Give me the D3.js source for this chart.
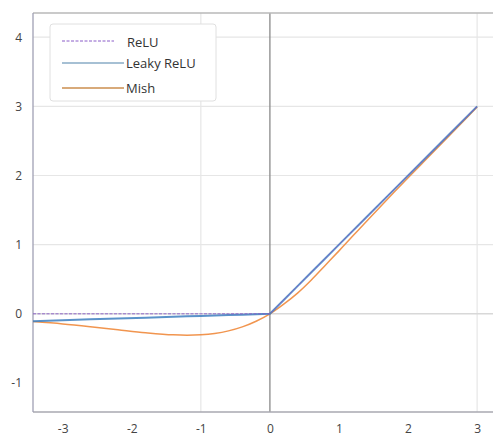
<!DOCTYPE html>
<html><head><meta charset="utf-8">
<script src="https://cdn.jsdelivr.net/npm/d3@7"></script>
<style>body{margin:0;background:#fff}svg{display:block}text{font-family:"Open Sans","Noto Sans",sans-serif}</style>
</head><body><div id="chart"></div>
<script>
const xs = [-3.43,-3.0,-2.6,-2.2,-1.8,-1.4,-1.2,-1.0,-0.8,-0.6,-0.4,-0.2,0,0.2,0.4,0.6,0.8,1.0,1.4,1.8,2.2,2.6,3.0];
const reluVals = [0,0,0,0,0,0,0,0,0,0,0,0,0,0.2,0.4,0.6,0.8,1.0,1.4,1.8,2.2,2.6,3.0];
const leakyVals = [-0.106,-0.093,-0.08,-0.068,-0.056,-0.043,-0.037,-0.031,-0.025,-0.019,-0.012,-0.006,0,0.2,0.4,0.6,0.8,1.0,1.4,1.8,2.2,2.6,3.0];
const mishVals = [-0.112,-0.146,-0.186,-0.230,-0.273,-0.304,-0.309,-0.303,-0.284,-0.247,-0.189,-0.107,0,0.14,0.30,0.49,0.70,0.91,1.34,1.76,2.17,2.58,2.99];
const seriesNames = ["ReLU","Leaky ReLU","Mish"];
const xTicks = [-3,-2,-1,0,1,2,3];
const yTicks = [-1,0,1,2,3,4];
const xGrid = [-1,3];
const yGrid = [1,2,3,4];

const W=500,H=445;
const L=33,R=493,T=13,B=412;
const svg=d3.select("#chart").append("svg").attr("width",W).attr("height",H);
const x=d3.scaleLinear().domain([-3.43,3.23]).range([L,R]);
const y=d3.scaleLinear().domain([-1.42,4.35]).range([B,T]);

// grid
svg.append("g").selectAll("line").data(xGrid).join("line")
  .attr("x1",d=>x(d)).attr("x2",d=>x(d)).attr("y1",T).attr("y2",B)
  .attr("stroke","#e6e6e6").attr("stroke-width",1.2);
svg.append("g").selectAll("line").data(yGrid).join("line")
  .attr("x1",L).attr("x2",R).attr("y1",d=>y(d)).attr("y2",d=>y(d))
  .attr("stroke","#e6e6e6").attr("stroke-width",1.2);
// zero lines
svg.append("line").attr("x1",L).attr("x2",R).attr("y1",y(0)).attr("y2",y(0)).attr("stroke","#d8d8d8").attr("stroke-width",1.5);
svg.append("line").attr("x1",x(0)).attr("x2",x(0)).attr("y1",T).attr("y2",B).attr("stroke","#8a8a8a").attr("stroke-width",1.3);

// spines
svg.append("line").attr("x1",L).attr("x2",R).attr("y1",T).attr("y2",T).attr("stroke","#b8b8b8").attr("stroke-width",1.3);
svg.append("line").attr("x1",L).attr("x2",R).attr("y1",B).attr("y2",B).attr("stroke","#a8a8b0").attr("stroke-width",1.3);
svg.append("line").attr("x1",L).attr("x2",L).attr("y1",T).attr("y2",B).attr("stroke","#a0a0b4").attr("stroke-width",1.3);

// axes
const xAxis=d3.axisBottom(x).tickValues(xTicks).tickSize(0).tickPadding(12).tickFormat(d=>String(d));
const gx=svg.append("g").attr("transform",`translate(0,${B})`).call(xAxis);
gx.select(".domain").remove();
const yAxis=d3.axisLeft(y).tickValues(yTicks).tickSize(0).tickPadding(11).tickFormat(d=>String(d));
const gy=svg.append("g").attr("transform",`translate(${L},0)`).call(yAxis);
gy.select(".domain").remove();
svg.selectAll(".tick text").attr("font-size",12).attr("fill","#444").attr("font-family","'Open Sans','Noto Sans',sans-serif");

// lines
const pts=v=>xs.map((d,i)=>[d,v[i]]);
const line=d3.line().x(d=>x(d[0])).y(d=>y(d[1]));
const lineC=d3.line().x(d=>x(d[0])).y(d=>y(d[1])).curve(d3.curveMonotoneX);
svg.append("path").attr("d",lineC(pts(mishVals))).attr("fill","none").attr("stroke","#ef8a3c").attr("stroke-width",1.5).attr("opacity",0.9);
svg.append("path").attr("d",line(pts(leakyVals))).attr("fill","none").attr("stroke","#3d7fc0").attr("stroke-width",2).attr("opacity",0.85);
svg.append("path").attr("d",line(pts(reluVals))).attr("fill","none").attr("stroke","#8a5cc8").attr("stroke-width",1).attr("stroke-dasharray","3,1.5").attr("opacity",0.9);

// legend
const lg=svg.append("g");
lg.append("rect").attr("x",50).attr("y",24).attr("width",166).attr("height",77).attr("rx",3)
  .attr("fill","#fff").attr("stroke","#e0e0e0").attr("stroke-width",1);
const legStyles=[{c:"#8a5cc8",w:1,dash:"3,1.5",x2:114,ty:42,ly:41},{c:"#a6c0d4",w:2,dash:null,x2:124,ty:63,ly:63},{c:"#d8aa7a",w:2,dash:null,x2:124,ty:88,ly:88}];
seriesNames.forEach((n,i)=>{
  const s=legStyles[i];
  lg.append("line").attr("x1",62).attr("x2",s.x2).attr("y1",s.ly).attr("y2",s.ly)
    .attr("stroke",s.c).attr("stroke-width",s.w).attr("stroke-dasharray",s.dash);
  lg.append("text").attr("x",i===0?127:126).attr("y",s.ty).attr("dy","0.35em").attr("font-size",13).attr("fill","#333").text(n);
});
</script></body></html>
